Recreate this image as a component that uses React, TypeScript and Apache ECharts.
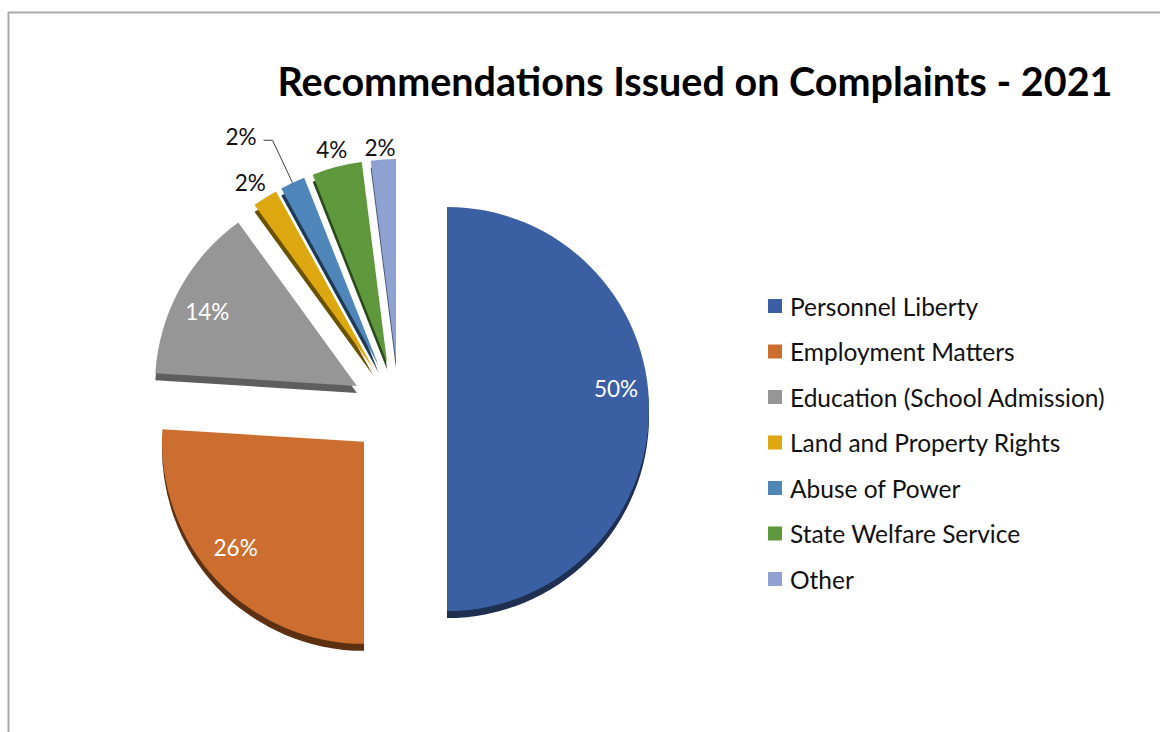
import React, { useEffect, useRef } from "react";
import * as echarts from "echarts";

const chartTitle = "Recommendations Issued on Complaints - 2021";
const categories = [
  "Personnel Liberty",
  "Employment Matters",
  "Education (School Admission)",
  "Land and Property Rights",
  "Abuse of Power",
  "State Welfare Service",
  "Other",
];
const values = [50, 26, 14, 2, 2, 4, 2];
const topColors = ["#3B5FA3", "#CC6E2F", "#969696", "#DDA70F", "#4F86BA", "#5F973D", "#8EA1D1"];
const sideColors = ["#1E2F52", "#5E3012", "#5E5E5E", "#6B5104", "#1F3A57", "#2B4A1B", "#434E6E"];

const FONT = "Lato, 'Noto Sans', sans-serif";

// small nudges of the labels (Excel "best fit" placement)
const labelNudge = [
  [-3, -21],
  [-3, -12],
  [1, 8],
  [-3, 2],
  [-1, -4],
  [0, 0],
  [-2, 0],
];

export default function App() {
  const ref = useRef<HTMLDivElement>(null);

  useEffect(() => {
    if (!ref.current) return;
    const chart = echarts.init(ref.current, undefined, { renderer: "svg" });

    const center = [399, 409];
    const radius = 202;
    const explode = 48;

    const inside = () => ({
      show: true,
      position: "inside",
      color: "#ffffff",
      fontSize: 22.5,
      fontFamily: FONT,
    });
    const outside = (len: number) => ({
      label: {
        show: true,
        position: "outside",
        color: "#111111",
        fontSize: 22.5,
        fontFamily: FONT,
        distanceToLabelLine: -15,
      },
      labelLine: { show: false, length: len, length2: 0 },
    });

    const labelCfg: any[] = [
      { label: inside() },
      { label: inside() },
      { label: inside() },
      outside(21),
      {
        label: {
          show: true,
          position: "outside",
          color: "#111111",
          fontSize: 22.5,
          fontFamily: FONT,
          distanceToLabelLine: 6,
        },
        labelLine: {
          show: true,
          length: 47,
          length2: 9,
          lineStyle: { color: "#404040", width: 1 },
        },
      },
      outside(18),
      outside(12),
    ];

    const common = {
      type: "pie",
      center,
      startAngle: 90,
      clockwise: true,
      selectedMode: "multiple",
      selectedOffset: explode,
      avoidLabelOverlap: false,
      silent: true,
      emphasis: { disabled: true },
      animation: false,
    };

    chart.setOption({
      animation: false,
      backgroundColor: "#ffffff",
      title: {
        text: chartTitle,
        left: 690,
        top: 55,
        textAlign: "center",
        textStyle: { fontFamily: FONT, fontWeight: "bold", fontSize: 39.5, color: "#000000" },
      },
      legend: {
        orient: "vertical",
        left: 763,
        top: 288,
        itemWidth: 14,
        itemHeight: 14,
        itemGap: 19.5,
        icon: "rect",
        data: categories,
        selectedMode: false,
        textStyle: {
          fontFamily: FONT,
          fontSize: 24.5,
          color: "#111111",
          lineHeight: 26,
          padding: [0, 0, 0, 3],
        },
      },
      graphic: [
        { type: "line", shape: { x1: 8.5, y1: 12, x2: 8.5, y2: 732 }, style: { stroke: "#ababab", lineWidth: 2 } },
        { type: "line", shape: { x1: 8, y1: 12.5, x2: 1160, y2: 12.5 }, style: { stroke: "#ababab", lineWidth: 2 } },
      ],
      series: [
        {
          ...common,
          name: "top",
          z: 3,
          radius: [0, radius],
          label: { show: false },
          labelLine: { show: false },
          data: categories.map((name, i) => ({
            name,
            value: values[i],
            selected: true,
            itemStyle: { color: topColors[i] },
          })),
        },
        {
          ...common,
          name: "side",
          z: 2,
          center: [center[0], center[1] + 7],
          radius: [0, radius],
          label: { show: false },
          labelLine: { show: false },
          data: categories.map((name, i) => ({
            name,
            value: values[i],
            selected: true,
            itemStyle: { color: sideColors[i] },
          })),
        },
        {
          ...common,
          name: "labels",
          z: 4,
          radius: [136, radius],
          itemStyle: { color: "rgba(0,0,0,0)" },
          label: { formatter: "{c}%" },
          labelLayout: (p: any) => {
            const n = labelNudge[p.dataIndex] || [0, 0];
            return { dx: n[0], dy: n[1] };
          },
          data: categories.map((name, i) => ({
            name,
            value: values[i],
            selected: true,
            ...labelCfg[i],
          })),
        },
      ],
    });

    return () => chart.dispose();
  }, []);

  return (
    <div
      ref={ref}
      style={{ position: "fixed", left: 0, top: 0, width: 1160, height: 732 }}
    />
  );
}
